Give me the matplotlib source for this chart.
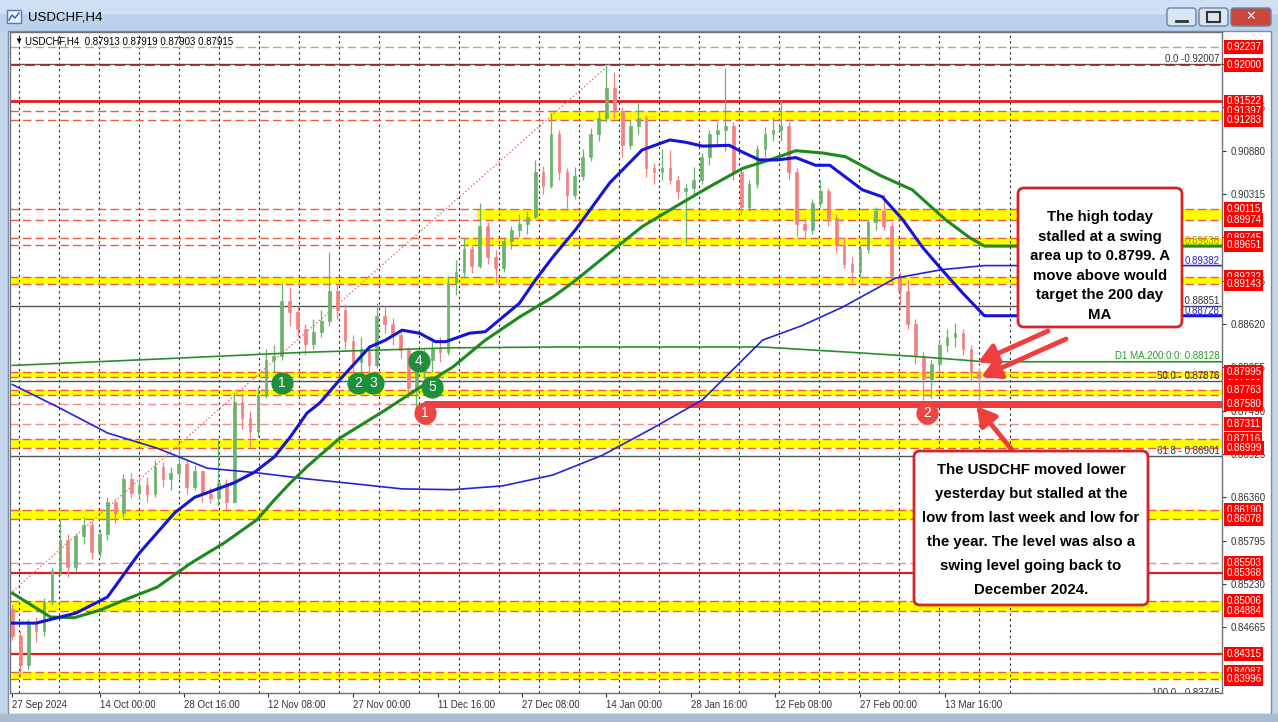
import numpy as np
import matplotlib.pyplot as plt
from matplotlib.patches import Rectangle, FancyBboxPatch

plt.rcParams['font.family'] = ['Liberation Sans', 'DejaVu Sans']

# daily candles (trading day index from 27 Sep 2024)
first_open = 0.8490
highs = [0.8495, 0.8462, 0.8478, 0.8480, 0.8505, 0.8545, 0.8607, 0.8588, 0.8590, 0.8611,
         0.8605, 0.8595, 0.8637, 0.8635, 0.8667, 0.8668, 0.8660, 0.8662, 0.8685, 0.8682,
         0.8675, 0.8702, 0.8685, 0.8678, 0.8672, 0.8650, 0.8711, 0.8660, 0.8772, 0.8772,
         0.8748, 0.8780, 0.8830, 0.8835, 0.8916, 0.8910, 0.8885, 0.8862, 0.8868, 0.8880,
         0.8956, 0.8915, 0.8888, 0.8848, 0.8845, 0.8835, 0.8889, 0.8885, 0.8870, 0.8852,
         0.8832, 0.8825, 0.8830, 0.8840, 0.8845, 0.8924, 0.8945, 0.8974, 0.8965, 0.9020,
         0.8995, 0.8958, 0.8975, 0.8990, 0.9006, 0.9010, 0.9076, 0.9068, 0.9137, 0.9115,
         0.9065, 0.9067, 0.9090, 0.9118, 0.9140, 0.9200, 0.9190, 0.9145, 0.9128, 0.9150,
         0.9135, 0.9072, 0.9090, 0.9089, 0.9055, 0.9045, 0.9067, 0.9085, 0.9115, 0.9125,
         0.9196, 0.9125, 0.9065, 0.9050, 0.9095, 0.9119, 0.9132, 0.9154, 0.9125, 0.9065,
         0.9000, 0.9025, 0.9050, 0.9040, 0.9005, 0.8975, 0.8950, 0.8965, 0.8998, 0.9015,
         0.9032, 0.8995, 0.8930, 0.8920, 0.8868, 0.8825, 0.8815, 0.8842, 0.8855, 0.8863,
         0.8855, 0.8835, 0.8805]
lows = [0.8450, 0.8402, 0.8412, 0.8448, 0.8455, 0.8495, 0.8535, 0.8532, 0.8540, 0.8575,
        0.8555, 0.8558, 0.8580, 0.8603, 0.8610, 0.8635, 0.8632, 0.8630, 0.8636, 0.8650,
        0.8645, 0.8660, 0.8640, 0.8645, 0.8630, 0.8628, 0.8625, 0.8620, 0.8628, 0.8725,
        0.8702, 0.8715, 0.8765, 0.8799, 0.8815, 0.8860, 0.8845, 0.8822, 0.8830, 0.8845,
        0.8860, 0.8868, 0.8830, 0.8798, 0.8800, 0.8799, 0.8805, 0.8850, 0.8835, 0.8818,
        0.8765, 0.8746, 0.8790, 0.8800, 0.8812, 0.8822, 0.8900, 0.8922, 0.8928, 0.8935,
        0.8940, 0.8915, 0.8930, 0.8960, 0.8975, 0.8980, 0.9000, 0.9032, 0.9040, 0.9050,
        0.9011, 0.9025, 0.9050, 0.9075, 0.9100, 0.9125, 0.9130, 0.9080, 0.9090, 0.9110,
        0.9054, 0.9045, 0.9050, 0.9045, 0.9025, 0.8967, 0.9030, 0.9045, 0.9070, 0.9095,
        0.9088, 0.9050, 0.9006, 0.9010, 0.9040, 0.9080, 0.9100, 0.9100, 0.9050, 0.8976,
        0.8975, 0.8980, 0.9015, 0.8990, 0.8954, 0.8935, 0.8915, 0.8925, 0.8955, 0.8985,
        0.8985, 0.8915, 0.8880, 0.8855, 0.8810, 0.8763, 0.8765, 0.8800, 0.8825, 0.8832,
        0.8822, 0.8788, 0.8763]
closes = [0.8455, 0.8418, 0.8472, 0.8462, 0.8500, 0.8540, 0.8580, 0.8545, 0.8585, 0.8600,
          0.8565, 0.8588, 0.8630, 0.8615, 0.8660, 0.8642, 0.8652, 0.8640, 0.8676, 0.8660,
          0.8668, 0.8680, 0.8650, 0.8670, 0.8640, 0.8635, 0.8655, 0.8630, 0.8760, 0.8740,
          0.8722, 0.8770, 0.8815, 0.8820, 0.8892, 0.8878, 0.8855, 0.8836, 0.8852, 0.8866,
          0.8905, 0.8880, 0.8840, 0.8812, 0.8830, 0.8808, 0.8872, 0.8862, 0.8848, 0.8828,
          0.8778, 0.8800, 0.8815, 0.8830, 0.8825, 0.8915, 0.8930, 0.8960, 0.8938, 0.8990,
          0.8950, 0.8935, 0.8970, 0.8985, 0.8992, 0.9002, 0.9060, 0.9042, 0.9110, 0.9060,
          0.9030, 0.9055, 0.9080, 0.9110, 0.9130, 0.9170, 0.9140, 0.9095, 0.9120, 0.9130,
          0.9065, 0.9060, 0.9065, 0.9050, 0.9035, 0.9040, 0.9050, 0.9080, 0.9110, 0.9115,
          0.9120, 0.9060, 0.9015, 0.9045, 0.9090, 0.9110, 0.9115, 0.9120, 0.9060, 0.8992,
          0.8985, 0.9020, 0.9035, 0.9000, 0.8965, 0.8940, 0.8930, 0.8960, 0.8995, 0.9010,
          0.8990, 0.8925, 0.8905, 0.8862, 0.8820, 0.8790, 0.8810, 0.8835, 0.8845, 0.8850,
          0.8830, 0.8800, 0.87915]

# moving averages, sampled along the drawn curves
ma_fast_days = [0, 3, 8, 12, 16, 20.5, 23, 28, 30.6, 33.1, 35.1, 37.2, 38.8, 41.3, 45.1,
                47.1, 49.2, 51.4, 53.4, 54.7, 57.7, 59.7, 61.9, 64, 66, 68.2, 71.1, 75.4,
                79.5, 83, 85, 87.1, 90.5, 92.2, 94.3, 96.6, 98.9, 101.4, 103.2, 107.3,
                109.8, 112.4, 114.9, 117.4, 120, 122.7]
ma_fast_vals = [0.8472, 0.8472, 0.8485, 0.8506, 0.8563, 0.8616, 0.8636, 0.8655, 0.8669,
                0.8689, 0.8715, 0.8746, 0.8759, 0.8789, 0.8832, 0.8841, 0.8854, 0.8850,
                0.8839, 0.8839, 0.8850, 0.8852, 0.8871, 0.8889, 0.8919, 0.8949, 0.8985,
                0.9046, 0.9089, 0.9102, 0.9099, 0.9094, 0.9095, 0.9086, 0.9076, 0.9076,
                0.9079, 0.9069, 0.9069, 0.9037, 0.9028, 0.8998, 0.8962, 0.8932, 0.8902,
                0.88728]
ma_slow_days = [0, 4.8, 7.8, 11.1, 14.1, 18.3, 22.5, 26.8, 30.9, 33.1, 35.1, 37.2, 41.3,
                47.1, 51.4, 55.6, 59.7, 64, 68.2, 71.1, 75.4, 79.5, 83.7, 88, 92.2, 95.6,
                98.9, 102.3, 105.2, 109.5, 113.6, 117.8, 120.8, 122.7]
ma_slow_vals = [0.8511, 0.8480, 0.8479, 0.8489, 0.8502, 0.8519, 0.8550, 0.8577, 0.8607,
                0.8633, 0.8655, 0.8676, 0.8713, 0.8750, 0.8779, 0.8806, 0.8841, 0.8871,
                0.8897, 0.8919, 0.8955, 0.8989, 0.9015, 0.9041, 0.9065, 0.9076, 0.9088,
                0.9085, 0.9080, 0.9056, 0.9037, 0.8998, 0.8975, 0.89636]
d1_ma100_days = [0, 5.7, 12, 18.3, 24.6, 30.9, 37.2, 42.9, 49.2, 55.6, 61.9, 68.2, 74.5,
                 80.8, 87.1, 90.9, 94.7, 99.7, 104.8, 111.5, 117.4, 122.7]
d1_ma100_vals = [0.8783, 0.8754, 0.8720, 0.8700, 0.8674, 0.8668, 0.8660, 0.8654, 0.8647,
                 0.8646, 0.8651, 0.8665, 0.8691, 0.8726, 0.8763, 0.8802, 0.8841, 0.8860,
                 0.8884, 0.8922, 0.8933, 0.89382]
d1_ma200_days = [0, 17.7, 36.6, 55.6, 68.2, 80.8, 94.7, 106, 115, 122.7]
d1_ma200_vals = [0.8808, 0.8816, 0.8825, 0.8831, 0.8832, 0.8832, 0.8832, 0.8825, 0.8819,
                 0.88128]

# drawn levels
band_tops = [0.91397, 0.90115, 0.89745, 0.89232, 0.87995, 0.87763, 0.87116, 0.86190,
             0.85006, 0.84087]
band_bottoms = [0.91283, 0.89974, 0.89651, 0.89143, 0.87930, 0.87700, 0.86999, 0.86078,
                0.84884, 0.83996]
band_start_days = [67.9, 58.7, 57.2, 0, 0, 0, 0, 0, 0, 0]
solid_levels = [0.91522, 0.85368, 0.84315]
dashed_levels = [0.92237, 0.87580, 0.87311, 0.85503]
round_level = 0.92000
swing_low = 0.87580
swing_low_from = 52
fib_names = ['0.0', '38.2', '50.0', '61.8', '100.0']
fib_levels = [0.92007, 0.88851, 0.87876, 0.86901, 0.83745]
fib_days = [-15.2, 75.4]
hidden_tags = [0.87930, 0.87700, 0.89232]
price_tags = [0.92237, 0.92000, 0.91522, 0.91397, 0.91283, 0.90115, 0.89974, 0.89745,
              0.89651, 0.89143, 0.87995, 0.87763, 0.87580, 0.87311, 0.87116, 0.86999,
              0.86190, 0.86078, 0.85503, 0.85368, 0.85006, 0.84884, 0.84315, 0.84087,
              0.83996]
price_ticks = [0.84665, 0.85230, 0.85795, 0.86360, 0.86925, 0.87490, 0.88055, 0.88620,
               0.89185, 0.89750, 0.90315, 0.90880, 0.91445, 0.92010]
tick_days = [0, 11, 21.67, 32.33, 43, 53.67, 64.33, 75, 85.67, 96.33, 107, 117.67]
tick_labels = ['27 Sep 2024', '14 Oct 00:00', '28 Oct 16:00', '12 Nov 08:00', '27 Nov 00:00',
               '11 Dec 16:00', '27 Dec 08:00', '14 Jan 00:00', '28 Jan 16:00', '12 Feb 08:00',
               '27 Feb 00:00', '13 Mar 16:00']
grid_days = [0.85 + 5.05 * k for k in range(25)] + [126.0]

green_labels = ['1', '2', '3', '4', '5']
green_days = [34.0, 43.6, 45.5, 51.3, 53.0]
green_prices = [0.87851, 0.87851, 0.87851, 0.88138, 0.87799]
red_labels = ['1', '2']
red_days = [52.1, 115.5]
red_prices = [0.87459, 0.87459]

note_high = ('The high today\nstalled at a swing\narea up to 0.8799. A\n'
             'move above would\ntarget the 200 day\nMA')
note_low = ('The USDCHF moved lower\nyesterday but stalled at the\nlow from last week and low for\n'
            'the year. The level was also a\nswing level going back to\nDecember 2024.')

W, H = 1278, 722
fig = plt.figure(figsize=(W / 100, H / 100), dpi=100)
fig.patch.set_facecolor('#c3d6ec')

# window frame in pixel coordinates
bg = fig.add_axes([0, 0, 1, 1], zorder=0)
bg.set_xlim(0, W)
bg.set_ylim(H, 0)
bg.axis('off')
bg.add_patch(Rectangle((0, 0), W, 31, color='#bcd2ec'))
bg.add_patch(Rectangle((0, 0), W, 13, color='#cfe0f4'))
bg.add_patch(Rectangle((8, 31), 1263, 683, facecolor='white', edgecolor='#7d8ea5', lw=1))
bg.add_patch(Rectangle((0, 714), W, 8, color='#a9bcd3'))

# main chart
ax = fig.add_axes([10 / W, (H - 693) / H, 1212 / W, 661 / H], zorder=2)
ax.set_facecolor('white')
x_right = 152.7
ax.set_xlim(-0.3, x_right)
ax.set_ylim(0.838087, 0.924278)

for d in grid_days:
    ax.axvline(d, color='#222222', lw=0.8, ls=(0, (2, 3)), zorder=1.5)

for top, bot, start in zip(band_tops, band_bottoms, band_start_days):
    ax.fill_between([start, x_right], bot, top, color='#ffff00', lw=0, zorder=1)
    for lv in (top, bot):
        ax.axhline(lv, color='#ee5a3c', lw=1, ls=(0, (6, 3)), zorder=2)

for lv in dashed_levels:
    ax.axhline(lv, color='#f28a8a', lw=1, ls=(0, (6, 3)), zorder=2)
for lv in fib_levels:
    ax.axhline(lv, color='#555555', lw=1, zorder=2)
ax.axhline(round_level, color='#a52020', lw=1.2, ls=(0, (6, 3)), zorder=2.1)
ax.axhline(solid_levels[0], color='#e01e1e', lw=2, zorder=2.1)
for lv in solid_levels[1:]:
    ax.axhline(lv, color='#e01e1e', lw=1.6, zorder=2.1)
ax.hlines(swing_low, swing_low_from, x_right, color='#f03c3c', lw=5, zorder=2.2)
ax.plot(fib_days, [fib_levels[-1], fib_levels[0]], color='#ee6a6a', lw=1, ls=':', zorder=2.3)

# candles
opens = [first_open] + closes[:-1]
for d, (o, h, l, c) in enumerate(zip(opens, highs, lows, closes)):
    col = '#6cb46c' if c >= o else '#f28282'
    ax.vlines(d, min(l, o, c), max(h, o, c), color=col, lw=0.9, zorder=4)
    ax.add_patch(Rectangle((d - 0.17, min(o, c)), 0.34, max(abs(c - o), 0.00005),
                           facecolor=col, edgecolor=col, lw=0.5, zorder=4))

# moving averages, held flat past the last bar
ax.plot(d1_ma200_days + [x_right], d1_ma200_vals + [d1_ma200_vals[-1]], color='#2a8f2a', lw=1.2, zorder=5)
ax.plot(d1_ma100_days + [x_right], d1_ma100_vals + [d1_ma100_vals[-1]], color='#2424d6', lw=1.2, zorder=5)
ax.plot(ma_slow_days + [x_right], ma_slow_vals + [ma_slow_vals[-1]], color='#1d8a1d', lw=2.2, zorder=5)
ax.plot(ma_fast_days + [x_right], ma_fast_vals + [ma_fast_vals[-1]], color='#1414d8', lw=2.2, zorder=5)

# numbered swing markers
for lab, d, p in zip(green_labels, green_days, green_prices):
    ax.plot(d, p, 'o', ms=15, color='#1f8f3a', zorder=7)
    ax.text(d, p, lab, color='white', fontsize=10, ha='center', va='center', zorder=8)
for lab, d, p in zip(red_labels, red_days, red_prices):
    ax.plot(d, p, 'o', ms=15, color='#ef4444', zorder=7)
    ax.text(d, p, lab, color='white', fontsize=10, ha='center', va='center', zorder=8)

# level captions at the right edge
yx = ax.get_yaxis_transform()
for name, lv in zip(fib_names, fib_levels):
    ax.text(0.998, lv, f'{name} - {lv:.5f}' if name != '0.0' else f'0.0 -{lv:.5f}',
            transform=yx, ha='right', va='bottom', fontsize=7, color='#333333', zorder=6, clip_on=True)
ax.text(0.998, d1_ma200_vals[-1] + 0.0001, f'D1 MA:200:0:0: {d1_ma200_vals[-1]:.5f}', transform=yx,
        ha='right', va='bottom', fontsize=7, color='#2a9a2a', zorder=6)
ax.text(0.998, ma_slow_vals[-1], f'{ma_slow_vals[-1]:.5f}', transform=yx, ha='right', va='bottom',
        fontsize=7, color='#9a9a10', zorder=6)
for lv in (d1_ma100_vals[-1], ma_fast_vals[-1]):
    ax.text(0.998, lv, f'{lv:.5f}', transform=yx, ha='right', va='bottom', fontsize=7,
            color='#2424d6', zorder=6)

for lv in hidden_tags + price_tags:
    ax.text(1.0035, lv, f'{lv:.5f}', transform=yx, ha='left', va='center', fontsize=7,
            color='white', zorder=10, clip_on=False,
            bbox=dict(boxstyle='square,pad=0.2', fc='#ff0000', ec='none'))

# axes; grey scale labels that sit fully under a red tag are left blank
all_tags = hidden_tags + price_tags
tick_text = []
for t in price_ticks:
    covered = min(abs(t - g) for g in all_tags) < 0.0004
    tick_text.append('' if covered else f'{t:.5f}')
ax.yaxis.tick_right()
ax.set_yticks(price_ticks)
ax.set_yticklabels(tick_text)
ax.tick_params(axis='y', length=3, pad=3, labelsize=7, colors='#333333')
ax.set_xticks(tick_days)
ax.set_xticklabels(tick_labels, ha='left')
ax.tick_params(axis='x', length=3, pad=2, labelsize=7, colors='#333333')
for sp in ax.spines.values():
    sp.set_color('#707070')
    sp.set_linewidth(1)

# arrows from the notes
arrow = dict(arrowstyle='-|>,head_length=0.8,head_width=0.45', color='#ef3e3e', lw=3.5,
             shrinkA=0, shrinkB=0, mutation_scale=14)
ax.annotate('', xy=(121.9, 0.8812), xytext=(1048, H - 331), textcoords='figure pixels',
            arrowprops=arrow, zorder=9, annotation_clip=False)
ax.annotate('', xy=(122.3, 0.8793), xytext=(1066, H - 339), textcoords='figure pixels',
            arrowprops=arrow, zorder=9, annotation_clip=False)
ax.annotate('', xy=(121.7, 0.8755), xytext=(1012, H - 450), textcoords='figure pixels',
            arrowprops=arrow, zorder=9, annotation_clip=False)

# overlay: notes, title bar and legend line
top = fig.add_axes([0, 0, 1, 1], zorder=6)
top.set_xlim(0, W)
top.set_ylim(H, 0)
top.axis('off')
top.add_patch(FancyBboxPatch((1018, 188), 164, 139, boxstyle='round,pad=0,rounding_size=6',
                             fc='white', ec='#d42626', lw=2))
top.text(1100, 266, note_high, ha='center', va='center', fontsize=10.8, fontweight='bold',
         linespacing=1.5)
top.add_patch(FancyBboxPatch((914, 451), 234, 154, boxstyle='round,pad=0,rounding_size=6',
                             fc='white', ec='#d42626', lw=2))
top.text(1031, 530, note_low, ha='center', va='center', fontsize=10.8, fontweight='bold',
         linespacing=1.9)

top.text(14, 41, '\u25bc', fontsize=6, va='center', ha='left', color='black')
top.text(25, 41, 'USDCHF,H4  0.87913 0.87919 0.87903 0.87915', fontsize=7, va='center',
         ha='left', color='black')

top.add_patch(Rectangle((7, 10), 14, 13, fc='#e9f1fb', ec='#5a7aa8', lw=1))
top.plot([9, 12, 15, 19], [20, 15, 18, 13], color='#2d5fb0', lw=1)
top.text(28, 17, 'USDCHF,H4', fontsize=9.5, va='center', ha='left', color='black')

for x0, w, fc in [(1167, 29, '#dbe6f4'), (1199, 29, '#dbe6f4'), (1231, 40, '#c9473c')]:
    top.add_patch(FancyBboxPatch((x0, 8), w, 18, boxstyle='round,pad=0,rounding_size=3',
                                 fc=fc, ec='#6a82a3', lw=1))
top.plot([1176, 1187], [21, 21], color='#333333', lw=2)
top.add_patch(Rectangle((1207, 12), 13, 10, fill=False, ec='#333333', lw=1.5))
top.text(1251, 17, '\u2715', fontsize=9, ha='center', va='center', color='white',
         fontweight='bold')

fig.savefig('out.png', dpi=100, facecolor=fig.get_facecolor())
